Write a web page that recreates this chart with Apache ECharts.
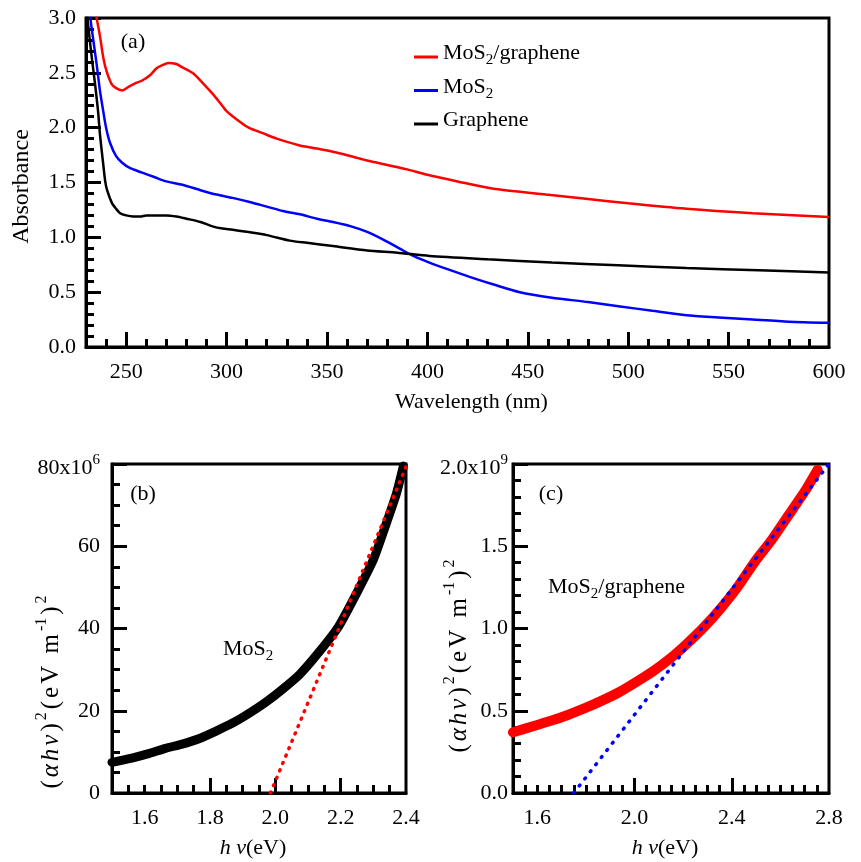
<!DOCTYPE html>
<html>
<head>
<meta charset="utf-8">
<script src="https://cdn.jsdelivr.net/npm/echarts@6/dist/echarts.min.js"></script>
<style>
  html, body { margin: 0; padding: 0; background: #fff; }
  #chart { width: 861px; height: 862px; }
</style>
</head>
<body>
<div id="chart"></div>
<script>
// (a) UV-vis absorbance spectra
const wlComposite = [234.5,235.3,237,238.6,240.3,242.7,245,248,251,254,258,262,265,268,271,275,278,283,287,293,297,300,304,311,318,325,336,345,353,362,370,380,390,400,415,434,459,480,500,529,562,600];
const absComposite = [3.1,3.0,2.83,2.64,2.51,2.40,2.36,2.34,2.37,2.40,2.43,2.48,2.54,2.57,2.59,2.58,2.55,2.50,2.43,2.31,2.22,2.15,2.09,2.00,1.95,1.90,1.84,1.81,1.78,1.74,1.70,1.66,1.62,1.57,1.51,1.44,1.39,1.35,1.31,1.26,1.22,1.185];

const wlMoS2 = [231.5,232.5,234,235.5,237,238.5,240,242,245,248,252,258,264,270,278,287,295,303,312,320,328,336.5,345,353,362,370,378,386,393,401,410,421,433,446,462,480,496,512,529,545,562,580,600];
const absMoS2 = [3.1,2.95,2.75,2.55,2.33,2.16,2.0,1.86,1.74,1.68,1.63,1.59,1.55,1.51,1.48,1.43,1.39,1.36,1.32,1.28,1.24,1.21,1.17,1.14,1.10,1.05,0.98,0.90,0.83,0.77,0.71,0.64,0.57,0.50,0.45,0.41,0.37,0.33,0.29,0.27,0.25,0.23,0.22];

const wlGraphene = [230.3,231,232,233,234.5,236,237,238.5,239.5,240.5,243,245,247,250,253.5,257,260,265,270,275,280,287,293,298,303,310,320,331.5,340,353,370,385,401,430,462,495,529,565,600];
const absGraphene = [3.1,2.95,2.78,2.62,2.40,2.15,1.93,1.68,1.52,1.43,1.31,1.26,1.22,1.20,1.19,1.19,1.20,1.20,1.20,1.19,1.17,1.14,1.10,1.08,1.07,1.05,1.02,0.97,0.95,0.92,0.88,0.86,0.83,0.80,0.77,0.745,0.72,0.70,0.68];

// (b) Tauc plot, MoS2 (y in units of 1e6)
const hvB = [1.50,1.561,1.612,1.664,1.715,1.766,1.817,1.869,1.920,1.971,2.023,2.074,2.131,2.193,2.249,2.300,2.336,2.371,2.392];
const taucB = [7.46,8.5,9.56,10.86,11.9,13.2,15.0,17.0,19.4,22.1,25.3,28.8,34.0,40.4,48.6,56.7,64.7,72.9,79.5];
const fitHvB = [1.985, 2.40];
const fitTaucB = [0, 79.3];

// (c) Tauc plot, MoS2/graphene (y in units of 1e9)
const hvC = [1.50,1.589,1.659,1.728,1.798,1.868,1.938,2.007,2.077,2.147,2.216,2.286,2.356,2.426,2.495,2.565,2.635,2.705,2.753];
const taucC = [0.369,0.409,0.440,0.476,0.517,0.563,0.614,0.675,0.741,0.818,0.908,1.009,1.125,1.256,1.406,1.540,1.692,1.844,1.965];
const fitHvC = [1.75, 2.80];
const fitTaucC = [0, 2.0];

// Tick labels and tick positions
const xLabelsA = [250,300,350,400,450,500,550,600];
const xMajorA = [250,300,350,400,450,500,550];
const xLabelsB = [1.6,1.8,2.0,2.2,2.4];
const xMajorB = [1.8,2.0,2.2];
const xLabelsC = [1.6,2.0,2.4,2.8];
const xMajorC = [2.0,2.4];

const seriesNames = ['MoS2/graphene', 'MoS2', 'Graphene'];

const FONT = 'Liberation Serif';
const zip = (xs, ys) => xs.map((x, i) => [x, ys[i]]);
function steps(from, to, step) {
  const out = [];
  const n = Math.round((to - from) / step);
  for (let i = 0; i <= n; i++) out.push(+(from + i * step).toFixed(4));
  return out;
}

const base = { fontFamily: FONT, fontSize: 22, color: '#000' };
const subRich = {
  t: { ...base, lineHeight: 22, padding: [0, 0, 7, 0] },
  s: { fontFamily: FONT, fontSize: 15, color: '#000', lineHeight: 15, verticalAlign: 'bottom' }
};
const supRich = {
  t: { ...base, lineHeight: 22, padding: [9, 0, 0, 0] },
  p: { fontFamily: FONT, fontSize: 15, color: '#000', lineHeight: 15, verticalAlign: 'top' }
};
// Rotated Tauc axis title, letters spread out a little
const nameBase = { fontFamily: FONT, fontSize: 25, color: '#000', lineHeight: 25, padding: [9, 3, 0, 0] };
const nameRich = {
  t: nameBase,
  i: { ...nameBase, fontStyle: 'italic' },
  p: { fontFamily: FONT, fontSize: 16, color: '#000', lineHeight: 16, verticalAlign: 'top', padding: [0, 3, 0, 0] }
};
const taucName = '{t|(}{i|α}{i|h}{i|ν}{t|)}{p|2}{t|(}{t|e}{t|V}{t| }{t|m}{p|-1}{t|)}{p|2}';

const axisLine = { show: true, onZero: false, lineStyle: { color: '#000', width: 3 } };
const italicRich = { i: { ...base, fontStyle: 'italic' } };

function xAxisPair(grid, min, max, labels, major, minorStep, fmt, nameGap, namePad) {
  return [
    {
      type: 'value', gridIndex: grid, min, max, position: 'bottom',
      axisLine,
      splitLine: { show: false },
      axisTick: { show: true, inside: true, length: 15, customValues: major, lineStyle: { color: '#000', width: 3 } },
      axisLabel: { show: true, customValues: labels, margin: 14, ...base, formatter: fmt },
      name: grid === 0 ? 'Wavelength (nm)' : '{i|h ν}(eV)',
      nameLocation: 'middle', nameGap, nameMoveOverlap: false,
      nameTextStyle: { ...base, padding: namePad, rich: italicRich }
    },
    {
      type: 'value', gridIndex: grid, min, max, position: 'bottom',
      axisLine: { show: false },
      splitLine: { show: false },
      axisTick: { show: true, inside: true, length: 8, customValues: steps(min + minorStep, max - minorStep, minorStep), lineStyle: { color: '#000', width: 3 } },
      axisLabel: { show: false }
    }
  ];
}

const chart = echarts.init(document.getElementById('chart'), null, { renderer: 'canvas' });

const option = {
  animation: false,
  backgroundColor: '#fff',
  grid: [
    { left: 86, top: 18, width: 743, height: 329, show: true, borderColor: '#000', borderWidth: 3, containLabel: false },
    { left: 112, top: 464, width: 294, height: 329, show: true, borderColor: '#000', borderWidth: 3, containLabel: false },
    { left: 513, top: 464, width: 316, height: 329, show: true, borderColor: '#000', borderWidth: 3, containLabel: false }
  ],
  xAxis: [
    ...xAxisPair(0, 230, 600, xLabelsA, xMajorA, 10, v => String(v), 44, [0, 0, 0, 28]),
    ...xAxisPair(1, 1.5, 2.4, xLabelsB, xMajorB, 0.05, v => v.toFixed(1), 44, [0, 12, 0, 0]),
    ...xAxisPair(2, 1.5, 2.8, xLabelsC, xMajorC, 0.05, v => v.toFixed(1), 44, [0, 12, 0, 0])
  ],
  yAxis: [
    {
      type: 'value', gridIndex: 0, min: 0, max: 3, interval: 0.5,
      axisLine, splitLine: { show: false },
      axisTick: { inside: true, length: 15, lineStyle: { color: '#000', width: 3 } },
      minorTick: { show: true, splitNumber: 5, length: 8, lineStyle: { color: '#000', width: 3 } },
      axisLabel: { ...base, margin: 10, formatter: v => v.toFixed(1) },
      name: 'Absorbance', nameLocation: 'middle', nameGap: 52, nameMoveOverlap: false,
      nameTextStyle: { ...base, fontSize: 24, padding: [0, 8, 0, 0] }
    },
    {
      type: 'value', gridIndex: 1, min: 0, max: 80, interval: 20,
      axisLine, splitLine: { show: false },
      axisTick: { inside: true, length: 15, lineStyle: { color: '#000', width: 3 } },
      minorTick: { show: true, splitNumber: 4, length: 8, lineStyle: { color: '#000', width: 3 } },
      axisLabel: { ...base, margin: 12, rich: supRich, formatter: v => v === 80 ? '{t|80x10}{p|6}' : String(v) },
      name: taucName, nameLocation: 'middle', nameGap: 53, nameMoveOverlap: false,
      nameTextStyle: { ...base, rich: nameRich, padding: [0, 124, 0, 0] }
    },
    {
      type: 'value', gridIndex: 2, min: 0, max: 2, interval: 0.5,
      axisLine, splitLine: { show: false },
      axisTick: { inside: true, length: 15, lineStyle: { color: '#000', width: 3 } },
      minorTick: { show: true, splitNumber: 5, length: 8, lineStyle: { color: '#000', width: 3 } },
      axisLabel: { ...base, margin: 5, rich: supRich, formatter: v => v === 2 ? '{t|2.0x10}{p|9}' : v.toFixed(1) },
      name: taucName, nameLocation: 'middle', nameGap: 46, nameMoveOverlap: false,
      nameTextStyle: { ...base, rich: nameRich, padding: [0, 52, 0, 0] }
    }
  ],
  legend: {
    data: seriesNames,
    orient: 'vertical',
    left: 409, top: 37.5,
    itemWidth: 24, itemHeight: 3, itemGap: 4.5,
    icon: 'rect',
    formatter: n => ({
      'MoS2/graphene': '{t|MoS}{s|2}{t|/graphene}',
      'MoS2': '{t|MoS}{s|2}',
      'Graphene': '{t|Graphene}'
    })[n],
    textStyle: { ...base, rich: subRich }
  },
  graphic: [
    { type: 'text', x: 133, y: 42, style: { text: '(a)', fontFamily: FONT, fontSize: 22, fill: '#000', align: 'center', verticalAlign: 'middle' } },
    { type: 'text', x: 143, y: 494, style: { text: '(b)', fontFamily: FONT, fontSize: 22, fill: '#000', align: 'center', verticalAlign: 'middle' } },
    { type: 'text', x: 551, y: 494, style: { text: '(c)', fontFamily: FONT, fontSize: 22, fill: '#000', align: 'center', verticalAlign: 'middle' } },
    { type: 'text', x: 223, y: 653, style: { text: '{t|MoS}{s|2}', rich: subRich, fontFamily: FONT, fontSize: 22, fill: '#000', align: 'left', verticalAlign: 'middle' } },
    { type: 'text', x: 548, y: 591, style: { text: '{t|MoS}{s|2}{t|/graphene}', rich: subRich, fontFamily: FONT, fontSize: 22, fill: '#000', align: 'left', verticalAlign: 'middle' } }
  ],
  series: [
    { name: 'MoS2/graphene', type: 'line', xAxisIndex: 0, yAxisIndex: 0, data: zip(wlComposite, absComposite), showSymbol: false, smooth: 0.25, color: '#ff0000', lineStyle: { width: 2.5 } },
    { name: 'MoS2', type: 'line', xAxisIndex: 0, yAxisIndex: 0, data: zip(wlMoS2, absMoS2), showSymbol: false, smooth: 0.25, color: '#0000ff', lineStyle: { width: 2.5 } },
    { name: 'Graphene', type: 'line', xAxisIndex: 0, yAxisIndex: 0, data: zip(wlGraphene, absGraphene), showSymbol: false, smooth: 0.25, color: '#000000', lineStyle: { width: 2.5 } },

    { name: 'Tauc MoS2', type: 'line', xAxisIndex: 2, yAxisIndex: 1, data: zip(hvB, taucB), showSymbol: false, smooth: 0.2, color: '#000', lineStyle: { width: 9, cap: 'round', join: 'round' } },
    { name: 'Fit MoS2', type: 'line', xAxisIndex: 2, yAxisIndex: 1, data: zip(fitHvB, fitTaucB), showSymbol: false, color: '#ff0000', lineStyle: { width: 3.5, type: [1, 7], cap: 'round' } },

    { name: 'Tauc MoS2/graphene', type: 'line', xAxisIndex: 4, yAxisIndex: 2, data: zip(hvC, taucC), showSymbol: false, smooth: 0.2, color: '#ff0000', lineStyle: { width: 10, cap: 'round', join: 'round' } },
    { name: 'Fit MoS2/graphene', type: 'line', xAxisIndex: 4, yAxisIndex: 2, data: zip(fitHvC, fitTaucC), showSymbol: false, color: '#0000ff', lineStyle: { width: 3.5, type: [1, 8], cap: 'round' } }
  ]
};

chart.setOption(option);
</script>
</body>
</html>
